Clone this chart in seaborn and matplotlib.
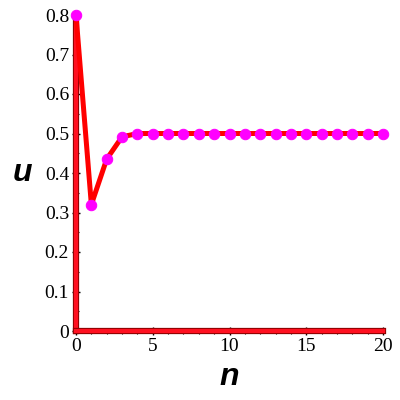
import numpy as np
import pandas as pd
import matplotlib
matplotlib.use('Agg')
import matplotlib.pyplot as plt
import matplotlib.patheffects as pe
from matplotlib.ticker import FuncFormatter, MultipleLocator
import seaborn as sns

# sequence values
n_vals = list(range(21))
u_vals = [0.8, 0.32, 0.4352, 0.4916, 0.4999, 0.5, 0.5, 0.5, 0.5, 0.5, 0.5,
          0.5, 0.5, 0.5, 0.5, 0.5, 0.5, 0.5, 0.5, 0.5, 0.5]
x_ticks = [0, 5, 10, 15, 20]
y_ticks = [0, 0.1, 0.2, 0.3, 0.4, 0.5, 0.6, 0.7, 0.8]

df = pd.DataFrame({'n': n_vals, 'u': u_vals})

sns.set_style('white')
plt.rcParams['font.family'] = ['Liberation Serif', 'DejaVu Serif']
plt.rcParams['text.color'] = 'black'
plt.rcParams['axes.labelcolor'] = 'black'
plt.rcParams['xtick.color'] = 'black'
plt.rcParams['ytick.color'] = 'black'

fig = plt.figure(figsize=(4, 4), dpi=100)
ax = fig.add_axes([0.19, 0.1725, 0.7675, 0.79])

sns.lineplot(data=df, x='n', y='u', ax=ax, color='#ff0000', linewidth=3.6,
             marker='o', markersize=7.5, markerfacecolor='#ff00ff',
             markeredgecolor='#ff00ff', clip_on=False, zorder=5)

ax.set_xlim(0, 20)
ax.set_ylim(0, 0.8)
ax.set_xticks(x_ticks)
ax.set_yticks(y_ticks)
ax.xaxis.set_minor_locator(MultipleLocator(1))
ax.yaxis.set_minor_locator(MultipleLocator(0.05))
ax.yaxis.set_major_formatter(FuncFormatter(lambda v, p: '0' if v == 0 else f'{v:.1f}'))

for s in ['top', 'right']:
    ax.spines[s].set_visible(False)
for s in ['left', 'bottom']:
    ax.spines[s].set_color('#ff1020')
    ax.spines[s].set_linewidth(3)
    ax.spines[s].set_path_effects([pe.Stroke(linewidth=4.5, foreground='#8b0000'), pe.Normal()])
    ax.spines[s].set_zorder(3)

ax.tick_params(which='major', direction='inout', length=6, width=1, color='black',
               labelcolor='black', labelsize=14, pad=2)
ax.tick_params(which='minor', direction='inout', length=4, width=0.8, color='black')
ax.tick_params(axis='both', which='both', bottom=True, left=True)

ax.set_xlabel('n', fontsize=23, fontweight='bold', fontstyle='italic',
              family=['Liberation Sans'], labelpad=5, color='black')
ax.set_ylabel('u', fontsize=23, fontweight='bold', fontstyle='italic',
              family=['Liberation Sans'], rotation=0, labelpad=16, va='center',
              color='black')

fig.savefig('out.png', dpi=100)
